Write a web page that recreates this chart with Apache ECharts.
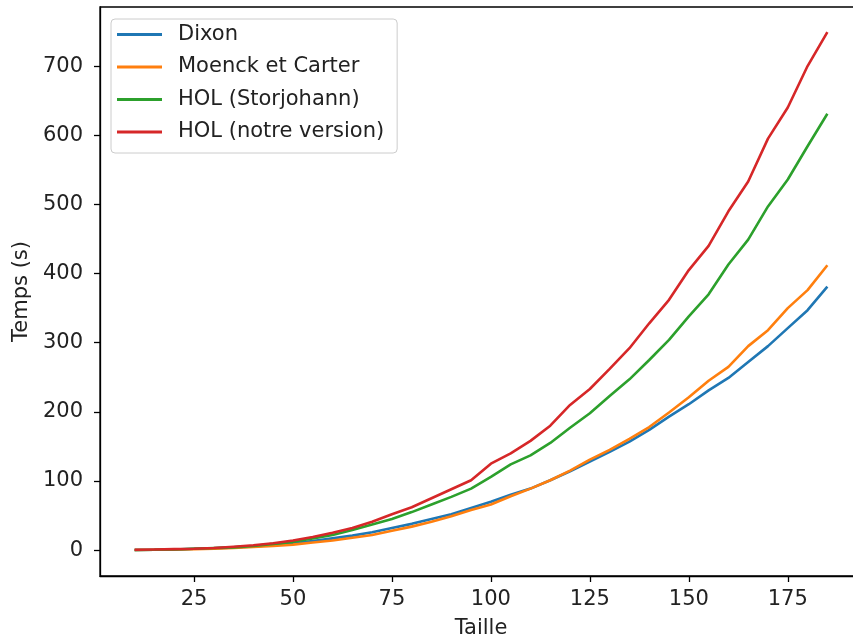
<!DOCTYPE html>
<html>
<head>
<meta charset="utf-8">
<script src="https://cdn.jsdelivr.net/npm/echarts@6/dist/echarts.min.js"></script>
<style>
  html, body { margin: 0; padding: 0; background: #fff; }
  #chart { width: 853px; height: 641px; }
</style>
</head>
<body>
<div id="chart"></div>
<script>
  // tailles (abscisses)
  var taille = [10, 15, 20, 25, 30, 35, 40, 45, 50, 55, 60, 65, 70, 75, 80, 85, 90, 95,
    100, 105, 110, 115, 120, 125, 130, 135, 140, 145, 150, 155, 160, 165, 170, 175, 180, 185];

  var dixon = [0.2, 0.5, 1, 2, 2.5, 4, 5.5, 7.5, 10, 13, 17, 21, 26, 32, 38, 45, 52, 61,
    70, 80, 89, 101, 114, 128, 142, 157, 174, 193, 211, 231, 249, 272, 295, 321, 347, 381];
  var moenck = [0.2, 0.5, 1, 1.5, 2, 3, 4.5, 6, 8, 11, 14, 18, 22, 28, 34, 41, 49, 58,
    66, 78, 89, 101, 115, 131, 145, 161, 178, 199, 221, 245, 265, 295, 318, 350, 376, 412];
  var holStorjohann = [0.3, 0.5, 1, 2, 3, 4, 6, 9, 12, 17, 22, 29, 37, 45, 55, 66, 77, 89,
    106, 124, 137, 155, 177, 198, 223, 247, 275, 304, 338, 370, 413, 449, 497, 536, 584, 631];
  var holNotre = [0.5, 1, 1.5, 2, 3, 5, 7, 10, 14, 19, 25, 32, 41, 52, 62, 75, 88, 101,
    125, 140, 158, 180, 210, 233, 262, 292, 328, 362, 405, 440, 490, 533, 595, 640, 700, 749];

  var xTicks = [25, 50, 75, 100, 125, 150, 175];
  var yTicks = [0, 100, 200, 300, 400, 500, 600, 700];

  var names = ['Dixon', 'Moenck et Carter', 'HOL (Storjohann)', 'HOL (notre version)'];
  var colors = ['#1f77b4', '#ff7f0e', '#2ca02c', '#d62728'];
  var values = [dixon, moenck, holStorjohann, holNotre];

  var font = 'DejaVu Sans';
  var fontSize = 21;
  var textColor = '#222';

  function pairs(ys) {
    return taille.map(function (t, i) { return [t, ys[i]]; });
  }

  var myChart = echarts.init(document.getElementById('chart'), null, {renderer: 'canvas'});

  var option = {
    animation: false,
    backgroundColor: '#fff',
    textStyle: {fontFamily: font},
    grid: {
      left: 100,
      top: 7,
      width: 762,   // la bordure droite sort de l'image, comme sur l'original
      bottom: 65,
      outerBoundsMode: 'none',
      show: true,
      borderColor: '#000',
      borderWidth: 1.3,
      backgroundColor: 'transparent'
    },
    legend: {
      orient: 'vertical',
      left: 111,
      top: 19,
      padding: [3.5, 13, 9, 6],
      itemGap: 8.5,
      itemWidth: 45,
      itemHeight: 3,
      icon: 'rect',
      itemStyle: {borderWidth: 0},
      backgroundColor: 'rgba(255,255,255,0.8)',
      borderColor: '#cccccc',
      borderWidth: 1,
      borderRadius: 4,
      textStyle: {
        fontFamily: font,
        fontSize: fontSize,
        lineHeight: 24,
        color: textColor,
        padding: [0, 0, 0, 11]
      },
      data: names
    },
    xAxis: {
      type: 'value',
      min: 1.25,
      max: 193.75,
      name: 'Taille',
      nameLocation: 'middle',
      nameGap: 42,
      nameTextStyle: {fontFamily: font, fontSize: fontSize, color: textColor},
      splitLine: {show: false},
      axisLine: {show: true, onZero: false, lineStyle: {color: '#000', width: 1.3}},
      axisTick: {show: true, length: 6, lineStyle: {color: '#000', width: 1.3}, customValues: xTicks},
      axisLabel: {fontFamily: font, fontSize: fontSize, color: textColor, margin: 13, customValues: xTicks}
    },
    yAxis: {
      type: 'value',
      min: -37.4,
      max: 785.4,
      name: 'Temps (s)',
      nameLocation: 'middle',
      nameGap: 64,
      nameTextStyle: {fontFamily: font, fontSize: fontSize, color: textColor},
      splitLine: {show: false},
      axisLine: {show: true, onZero: false, lineStyle: {color: '#000', width: 1.3}},
      axisTick: {show: true, length: 6, lineStyle: {color: '#000', width: 1.3}, customValues: yTicks},
      axisLabel: {fontFamily: font, fontSize: fontSize, color: textColor, margin: 17, customValues: yTicks}
    },
    series: names.map(function (n, i) {
      return {
        name: n,
        type: 'line',
        data: pairs(values[i]),
        showSymbol: false,
        symbol: 'none',
        color: colors[i],
        lineStyle: {color: colors[i], width: 2.6},
        z: 2 + i
      };
    })
  };
  myChart.setOption(option);
</script>
</body>
</html>
